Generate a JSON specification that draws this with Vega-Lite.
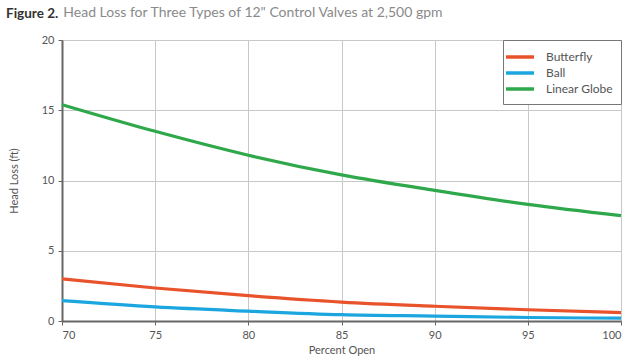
{
  "$schema": "https://vega.github.io/schema/vega-lite/v6.json",
  "width": 559,
  "height": 281,
  "autosize": {"type": "none"},
  "padding": {"left": 62, "top": 40, "right": 19, "bottom": 39},
  "background": "white",
  "config": {
    "font": "Lato",
    "view": {"stroke": "#bbbbbb", "strokeWidth": 1}
  },
  "title": {
    "text": "Figure 2.",
    "subtitle": "\u200b\u00a0\u00a0\u00a0\u00a0\u00a0\u00a0\u00a0\u00a0\u00a0\u00a0\u00a0\u00a0\u00a0\u00a0\u00a0\u00a0Head Loss for Three Types of 12\" Control Valves at 2,500 gpm",
    "anchor": "start",
    "frame": "group",
    "dx": -56,
    "offset": 12,
    "font": "Lato",
    "fontSize": 13.5,
    "fontWeight": "bold",
    "color": "#333333",
    "subtitleFont": "Lato",
    "subtitleFontSize": 14,
    "subtitleColor": "#8a8a8a",
    "subtitlePadding": -15
  },
  "data": {
    "values": [
      {"pct": 70, "loss": 3.0, "valve": "Butterfly"},
      {"pct": 75, "loss": 2.35, "valve": "Butterfly"},
      {"pct": 80, "loss": 1.8, "valve": "Butterfly"},
      {"pct": 85, "loss": 1.35, "valve": "Butterfly"},
      {"pct": 90, "loss": 1.05, "valve": "Butterfly"},
      {"pct": 95, "loss": 0.8, "valve": "Butterfly"},
      {"pct": 100, "loss": 0.6, "valve": "Butterfly"},
      {"pct": 70, "loss": 1.45, "valve": "Ball"},
      {"pct": 75, "loss": 1.0, "valve": "Ball"},
      {"pct": 80, "loss": 0.7, "valve": "Ball"},
      {"pct": 85, "loss": 0.45, "valve": "Ball"},
      {"pct": 90, "loss": 0.35, "valve": "Ball"},
      {"pct": 95, "loss": 0.25, "valve": "Ball"},
      {"pct": 100, "loss": 0.2, "valve": "Ball"},
      {"pct": 70, "loss": 15.4, "valve": "Linear Globe"},
      {"pct": 75, "loss": 13.5, "valve": "Linear Globe"},
      {"pct": 80, "loss": 11.8, "valve": "Linear Globe"},
      {"pct": 85, "loss": 10.4, "valve": "Linear Globe"},
      {"pct": 90, "loss": 9.3, "valve": "Linear Globe"},
      {"pct": 95, "loss": 8.3, "valve": "Linear Globe"},
      {"pct": 100, "loss": 7.5, "valve": "Linear Globe"}
    ]
  },
  "mark": {"type": "line", "strokeWidth": 3.2, "interpolate": "monotone"},
  "encoding": {
    "x": {
      "field": "pct",
      "type": "quantitative",
      "scale": {"domain": [70, 100], "nice": false, "zero": false},
      "axis": {
        "title": "Percent Open",
        "values": [70, 75, 80, 85, 90, 95, 100],
        "titleFontSize": 11,
        "titleFontWeight": "normal",
        "titleColor": "#555555",
        "titlePadding": 4,
        "labelFontSize": 11,
        "labelColor": "#555555",
        "labelPadding": 4,
        "domainColor": "#666666",
        "domainWidth": 2,
        "tickColor": "#666666",
        "tickSize": 4,
        "gridColor": "#c8c8c8",
        "gridWidth": 1
      }
    },
    "y": {
      "field": "loss",
      "type": "quantitative",
      "scale": {"domain": [0, 20], "nice": false},
      "axis": {
        "title": "Head Loss (ft)",
        "values": [0, 5, 10, 15, 20],
        "titleFontSize": 11,
        "titleFontWeight": "normal",
        "titleColor": "#555555",
        "titlePadding": 22,
        "labelFontSize": 11,
        "labelColor": "#555555",
        "labelPadding": 4,
        "domainColor": "#666666",
        "domainWidth": 2,
        "tickColor": "#666666",
        "tickSize": 4,
        "gridColor": "#c8c8c8",
        "gridWidth": 1
      }
    },
    "color": {
      "field": "valve",
      "type": "nominal",
      "sort": ["Butterfly", "Ball", "Linear Globe"],
      "scale": {
        "domain": ["Butterfly", "Ball", "Linear Globe"],
        "range": ["#e8532b", "#1ca6e0", "#2fa84b"]
      },
      "legend": {
        "title": null,
        "orient": "top-right",
        "offset": 0,
        "symbolType": "M-2,0H2",
        "symbolStrokeWidth": 3.5,
        "symbolSize": 196,
        "labelFontSize": 12,
        "labelColor": "#555555",
        "labelOffset": 17,
        "fillColor": "white",
        "strokeColor": "#777777",
        "padding": 8,
        "rowPadding": -1
      }
    }
  }
}
